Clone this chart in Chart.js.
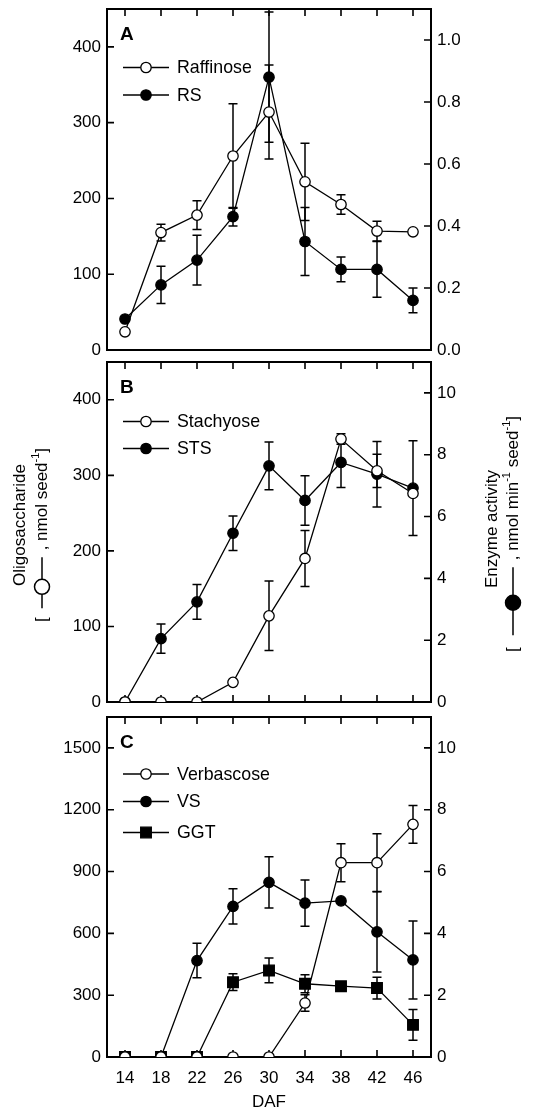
<!DOCTYPE html>
<html>
<head>
<meta charset="utf-8">
<script src="https://cdn.jsdelivr.net/npm/chart.js@4.4.1/dist/chart.umd.min.js"></script>
<style>
  html, body { margin: 0; padding: 0; background: #fff; overflow: hidden; }
  #wrap { position: relative; width: 546px; height: 1113px; }
  canvas { position: absolute; left: 0; }
</style>
</head>
<body>
<div id="wrap">
  <canvas id="panelA" width="546" height="381" style="top:-11px"></canvas>
  <canvas id="panelB" width="546" height="380" style="top:342px"></canvas>
  <canvas id="panelC" width="546" height="416" style="top:697px"></canvas>
</div>
<script>
// days after flowering
const daf = [14, 18, 22, 26, 30, 34, 38, 42, 46];

// panel A
const raffinose    = [24, 155, 178, 256, 314, 222, 192, 157, 156];
const raffinoseErr = [0, 11, 19, 69, 62, 51, 13, 13, 0];
const rs           = [0.10, 0.21, 0.29, 0.43, 0.88, 0.35, 0.26, 0.26, 0.16];
const rsErr        = [0, 0.06, 0.08, 0.03, 0.21, 0.11, 0.04, 0.09, 0.04];

// panel B
const stachyose    = [0, 0, 0, 26, 114, 190, 348, 306, 276];
const stachyoseErr = [0, 0, 0, 0, 46, 37, 7, 22, 0];
const sts          = [0, 2.05, 3.24, 5.46, 7.64, 6.52, 7.75, 7.37, 6.92];
const stsErr       = [0, 0.47, 0.56, 0.56, 0.77, 0.80, 0.81, 1.06, 1.53];

// panel C
const verbascose    = [0, 0, 0, 0, 0, 262, 943, 943, 1129];
const verbascoseErr = [0, 0, 0, 0, 0, 40, 92, 140, 92];
const vs            = [0, 0, 3.12, 4.87, 5.65, 4.98, 5.05, 4.05, 3.14];
const vsErr         = [0, 0, 0.56, 0.57, 0.83, 0.75, 0, 1.3, 1.26];
const ggt           = [0, 0, 0, 2.42, 2.80, 2.37, 2.29, 2.23, 1.04];
const ggtErr        = [0, 0, 0, 0.27, 0.40, 0.29, 0, 0.35, 0.50];

// tick labels
const ticksALeft  = [0, 100, 200, 300, 400];
const ticksARight = [0, 0.2, 0.4, 0.6, 0.8, 1.0];
const ticksBLeft  = [0, 100, 200, 300, 400];
const ticksBRight = [0, 2, 4, 6, 8, 10];
const ticksCLeft  = [0, 300, 600, 900, 1200, 1500];
const ticksCRight = [0, 2, 4, 6, 8, 10];

const FONT = '"Liberation Sans", Arial, Helvetica, sans-serif';
Chart.defaults.font.family = FONT;
Chart.defaults.font.size = 17;
Chart.defaults.color = '#000';

const TICK_LEN = 7;

// frame + inward ticks, drawn under the markers
const framePlugin = {
  id: 'frame',
  beforeDatasetsDraw(chart, args, opts) {
    const { ctx, chartArea: a, scales } = chart;
    ctx.save();
    ctx.strokeStyle = '#000';
    ctx.lineWidth = 1.6;
    ctx.beginPath();
    scales.x.ticks.forEach((t) => {
      const px = scales.x.getPixelForValue(t.value);
      ctx.moveTo(px, a.top);
      ctx.lineTo(px, a.top + TICK_LEN);
      if (opts.bottomTicks) {
        ctx.moveTo(px, a.bottom);
        ctx.lineTo(px, a.bottom - TICK_LEN);
      }
    });
    scales.y.ticks.forEach((t) => {
      const py = scales.y.getPixelForValue(t.value);
      ctx.moveTo(a.left, py);
      ctx.lineTo(a.left + TICK_LEN, py);
    });
    scales.y1.ticks.forEach((t) => {
      const py = scales.y1.getPixelForValue(t.value);
      ctx.moveTo(a.right, py);
      ctx.lineTo(a.right - TICK_LEN, py);
    });
    ctx.stroke();
    ctx.lineWidth = 2;
    ctx.strokeRect(a.left, a.top, a.right - a.left, a.bottom - a.top);
    ctx.restore();
  }
};

// vertical error bars with caps
const errorBarPlugin = {
  id: 'errorBars',
  beforeDatasetsDraw(chart) {
    const { ctx } = chart;
    ctx.save();
    ctx.strokeStyle = '#000';
    ctx.lineWidth = 1.5;
    chart.data.datasets.forEach((ds, i) => {
      if (!ds.errors) return;
      const meta = chart.getDatasetMeta(i);
      const yScale = chart.scales[ds.yAxisID];
      meta.data.forEach((pt, j) => {
        const e = ds.errors[j];
        if (!e) return;
        const v = ds.data[j].y;
        const top = yScale.getPixelForValue(v + e);
        const bot = yScale.getPixelForValue(v - e);
        ctx.beginPath();
        ctx.moveTo(pt.x, top);
        ctx.lineTo(pt.x, bot);
        ctx.moveTo(pt.x - 4.5, top);
        ctx.lineTo(pt.x + 4.5, top);
        ctx.moveTo(pt.x - 4.5, bot);
        ctx.lineTo(pt.x + 4.5, bot);
        ctx.stroke();
      });
    });
    ctx.restore();
  }
};

function drawMarker(ctx, x, y, ds) {
  ctx.beginPath();
  if (ds.pointStyle === 'rect') {
    const s = ds.pointRadius * Math.SQRT1_2;
    ctx.rect(x - s, y - s, 2 * s, 2 * s);
  } else {
    ctx.arc(x, y, ds.pointRadius, 0, Math.PI * 2);
  }
  ctx.fillStyle = ds.pointBackgroundColor;
  ctx.fill();
  ctx.lineWidth = 1.3;
  ctx.stroke();
}

// in-plot legend and panel letter
const legendPlugin = {
  id: 'panelLegend',
  afterDraw(chart, args, opts) {
    const { ctx, chartArea: a } = chart;
    ctx.save();
    ctx.fillStyle = '#000';
    ctx.font = 'bold 19px ' + FONT;
    ctx.textBaseline = 'alphabetic';
    ctx.fillText(opts.letter, a.left + 13, a.top + 30.5);

    ctx.font = '17.8px ' + FONT;
    ctx.textBaseline = 'middle';
    chart.data.datasets.forEach((ds, i) => {
      const y = a.top + opts.rows[i];
      ctx.strokeStyle = '#000';
      ctx.lineWidth = 1.3;
      ctx.beginPath();
      ctx.moveTo(a.left + 16, y);
      ctx.lineTo(a.left + 62, y);
      ctx.stroke();
      drawMarker(ctx, a.left + 39, y, ds);
      ctx.fillStyle = '#000';
      ctx.fillText(ds.label, a.left + 70, y + 1);
    });
    ctx.restore();
  }
};

// rotated axis titles with an inline series symbol, drawn once on panel B
function drawRich(ctx, cx, cy, parts) {
  ctx.save();
  ctx.translate(cx, cy);
  ctx.rotate(-Math.PI / 2);
  ctx.textBaseline = 'middle';
  ctx.strokeStyle = '#000';
  ctx.lineWidth = 1.5;
  const big = '17px ' + FONT;
  const small = '11px ' + FONT;
  let total = 0;
  parts.forEach((p) => {
    if (p.gap !== undefined) p.w = p.gap;
    else if (p.line !== undefined) p.w = p.line;
    else if (p.circle !== undefined) p.w = 15;
    else {
      ctx.font = p.sup ? small : big;
      p.w = ctx.measureText(p.sup || p.t).width;
    }
    total += p.w;
  });
  let x = -total / 2;
  parts.forEach((p) => {
    if (p.line !== undefined) {
      ctx.beginPath();
      ctx.moveTo(x, 0);
      ctx.lineTo(x + p.w, 0);
      ctx.stroke();
    } else if (p.circle !== undefined) {
      ctx.beginPath();
      ctx.arc(x + 7.5, 0, 7.5, 0, Math.PI * 2);
      ctx.fillStyle = p.circle ? '#000' : '#fff';
      ctx.fill();
      ctx.stroke();
    } else if (p.gap === undefined) {
      ctx.fillStyle = '#000';
      ctx.font = p.sup ? small : big;
      ctx.fillText(p.sup || p.t, x, p.sup ? -6 : 0);
    }
    x += p.w;
  });
  ctx.restore();
}

const axisTitlePlugin = {
  id: 'axisTitles',
  afterDraw(chart, args, opts) {
    if (!opts.show) return;
    const { ctx, chartArea: a } = chart;
    const cy = a.top + 163;
    drawRich(ctx, 20, cy, [{ t: 'Oligosaccharide' }]);
    drawRich(ctx, 42, cy + 10, [
      { t: '[' }, { gap: 9 }, { line: 14 }, { circle: false }, { line: 22 }, { gap: 7 },
      { t: ', nmol seed' }, { sup: '-1' }, { t: ']' }
    ]);
    drawRich(ctx, 492, cy + 4, [{ t: 'Enzyme activity' }]);
    drawRich(ctx, 513, cy + 9, [
      { t: '[' }, { gap: 12 }, { line: 25 }, { circle: true }, { line: 28 }, { gap: 7 },
      { t: ', nmol min' }, { sup: '-1' }, { t: ' seed' }, { sup: '-1' }, { t: ']' }
    ]);
  }
};

function series(label, values, errors, axis, marker) {
  return {
    label,
    data: daf.map((d, i) => ({ x: d, y: values[i] })),
    errors,
    yAxisID: axis,
    borderColor: '#000',
    borderWidth: 1.3,
    pointStyle: marker === 'square' ? 'rect' : 'circle',
    pointRadius: marker === 'square' ? 7.5 : 5.2,
    pointHoverRadius: marker === 'square' ? 7.5 : 5.2,
    pointBackgroundColor: marker === 'open' ? '#fff' : '#000',
    pointBorderColor: '#000',
    pointBorderWidth: 1.3,
    tension: 0,
    fill: false
  };
}

function yAxis(position, max, tickValues, fmt, width) {
  return {
    type: 'linear',
    position,
    min: 0,
    max,
    grid: { display: false, drawTicks: false },
    border: { display: false },
    ticks: { padding: 6, callback: fmt, font: { size: 17 } },
    afterBuildTicks: (s) => { s.ticks = tickValues.map((v) => ({ value: v })); },
    afterFit: (s) => { s.width = width; }
  };
}

function makePanel(id, opts) {
  return new Chart(document.getElementById(id), {
    type: 'line',
    data: { datasets: opts.datasets },
    options: {
      responsive: false,
      animation: false,
      events: [],
      layout: { padding: { top: 20, left: 0, right: 0, bottom: 0 } },
      scales: {
        x: {
          type: 'linear',
          min: 12,
          max: 48,
          grid: { display: false, drawTicks: false },
          border: { display: false },
          ticks: { display: opts.xLabels, padding: 11, font: { size: 17 } },
          title: { display: opts.xLabels, text: 'DAF', font: { size: 17 }, padding: { top: 4, bottom: 0 } },
          afterBuildTicks: (s) => { s.ticks = daf.map((v) => ({ value: v })); },
          afterFit: (s) => { s.height = opts.xHeight; }
        },
        y: yAxis('left', opts.leftMax, opts.leftTicks, (v) => v, 107),
        y1: yAxis('right', opts.rightMax, opts.rightTicks, opts.rightFmt, 115)
      },
      plugins: {
        legend: { display: false },
        tooltip: { enabled: false },
        frame: { bottomTicks: opts.bottomTicks },
        panelLegend: { letter: opts.letter, rows: opts.rows },
        axisTitles: { show: !!opts.titles }
      }
    },
    plugins: [framePlugin, errorBarPlugin, legendPlugin, axisTitlePlugin]
  });
}

makePanel('panelA', {
  letter: 'A',
  datasets: [
    series('Raffinose', raffinose, raffinoseErr, 'y', 'open'),
    series('RS', rs, rsErr, 'y1', 'filled')
  ],
  leftMax: 450, leftTicks: ticksALeft,
  rightMax: 1.1, rightTicks: ticksARight, rightFmt: (v) => v.toFixed(1),
  rows: [58.5, 86],
  xLabels: false, xHeight: 20, bottomTicks: false
});

makePanel('panelB', {
  letter: 'B',
  datasets: [
    series('Stachyose', stachyose, stachyoseErr, 'y', 'open'),
    series('STS', sts, stsErr, 'y1', 'filled')
  ],
  leftMax: 450, leftTicks: ticksBLeft,
  rightMax: 11, rightTicks: ticksBRight, rightFmt: (v) => v,
  rows: [59.5, 86.5],
  xLabels: false, xHeight: 20, bottomTicks: true,
  titles: true
});

makePanel('panelC', {
  letter: 'C',
  datasets: [
    series('Verbascose', verbascose, verbascoseErr, 'y', 'open'),
    series('VS', vs, vsErr, 'y1', 'filled'),
    series('GGT', ggt, ggtErr, 'y1', 'square')
  ],
  leftMax: 1650, leftTicks: ticksCLeft,
  rightMax: 11, rightTicks: ticksCRight, rightFmt: (v) => v,
  rows: [57, 84.5, 115.5],
  xLabels: true, xHeight: 56, bottomTicks: true
});
</script>
</body>
</html>
